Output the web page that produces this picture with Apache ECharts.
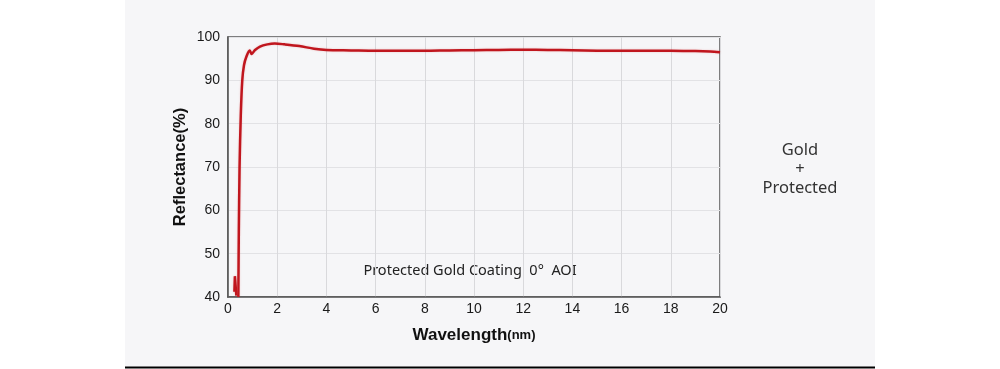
<!DOCTYPE html>
<html>
<head>
<meta charset="utf-8">
<style>
html,body{margin:0;padding:0;background:#ffffff;}
#chart{width:1000px;height:369px;}
</style>
<script src="https://cdn.jsdelivr.net/npm/echarts@6/dist/echarts.min.js"></script>
</head>
<body>
<div id="chart"></div>
<script>
var xTicks = [0, 2, 4, 6, 8, 10, 12, 14, 16, 18, 20];
var yTicks = [40, 50, 60, 70, 80, 90, 100];
var mainWavelength = [0.42, 0.44, 0.47, 0.52, 0.58, 0.65, 0.75, 0.88, 0.96, 1.1, 1.3, 1.6, 1.9, 2.3, 2.9, 3.5, 4, 5, 6, 7, 8, 9, 10, 11, 12, 13, 14, 15, 16, 17, 18, 19, 19.6, 20];
var mainReflectance = [40, 55, 70, 82, 90, 93.5, 95.5, 96.9, 96.1, 97.0, 97.8, 98.3, 98.5, 98.3, 97.9, 97.3, 97.0, 96.9, 96.8, 96.8, 96.8, 96.9, 96.95, 97.0, 97.05, 97.0, 96.95, 96.85, 96.8, 96.8, 96.8, 96.75, 96.65, 96.5];
var hookWavelength = [0.26, 0.28, 0.31, 0.34];
var hookReflectance = [41.2, 44.8, 44.6, 40.3];

function pairs(xs, ys) { return xs.map(function (x, i) { return [x, ys[i]]; }); }

var chart = echarts.init(document.getElementById('chart'));
var lineStyle = { color: '#c0161e', width: 2.5, shadowColor: 'rgba(220,80,80,0.3)', shadowBlur: 2 };
chart.setOption({
  animation: false,
  graphic: [
    { type: 'rect', z: -10, shape: { x: 125, y: 0, width: 750, height: 367 }, style: { fill: '#f6f6f8' } },
    { type: 'rect', z: -9, shape: { x: 125, y: 366.5, width: 750, height: 2 }, style: { fill: '#000000' } },
    { type: 'text', x: 800, y: 141, style: { text: 'Gold\n+\nProtected', align: 'center', fill: '#333333', font: '16.5px "Noto Sans"', lineHeight: 19 } },
    { type: 'text', x: 470, y: 271, style: { text: 'Protected Gold Coating  0°  AOI', align: 'center', verticalAlign: 'middle', fill: '#222222', font: '14.5px "Noto Sans"' } }
  ],
  grid: { left: 228, right: 280, top: 37, bottom: 72, show: true, borderColor: '#555555', borderWidth: 1.5, backgroundColor: 'transparent' },
  xAxis: {
    type: 'value', min: 0, max: 20, interval: 2,
    name: '{a|Wavelength}{b|(nm)}', nameLocation: 'middle', nameGap: 30,
    nameTextStyle: { rich: { a: { fontSize: 17, fontWeight: 'bold', color: '#111', fontFamily: 'Liberation Sans' }, b: { fontSize: 13, fontWeight: 'bold', color: '#111', fontFamily: 'Liberation Sans' } } },
    axisLine: { show: true, lineStyle: { color: '#555555', width: 1.5 } },
    axisTick: { show: false },
    axisLabel: { color: '#1a1a1a', fontSize: 14, fontFamily: 'Liberation Sans', margin: 5 },
    splitLine: { show: true, lineStyle: { color: '#d9d9dc', width: 1 } }
  },
  yAxis: {
    type: 'value', min: 40, max: 100, interval: 10,
    name: 'Reflectance(%)', nameLocation: 'middle', nameGap: 39,
    nameTextStyle: { fontSize: 16.5, fontWeight: 'bold', color: '#111', fontFamily: 'Liberation Sans' },
    axisLine: { show: true, lineStyle: { color: '#555555', width: 1.5 } },
    axisTick: { show: false },
    axisLabel: { color: '#1a1a1a', fontSize: 14, fontFamily: 'Liberation Sans', margin: 8 },
    splitLine: { show: true, lineStyle: { color: '#e2e2e5', width: 1 } }
  },
  series: [
    { type: 'line', data: pairs(mainWavelength, mainReflectance), smooth: 0.3, symbol: 'none', lineStyle: lineStyle, clip: true },
    { type: 'line', data: pairs(hookWavelength, hookReflectance), smooth: false, symbol: 'none', lineStyle: lineStyle, clip: true }
  ]
});
</script>
</body>
</html>
